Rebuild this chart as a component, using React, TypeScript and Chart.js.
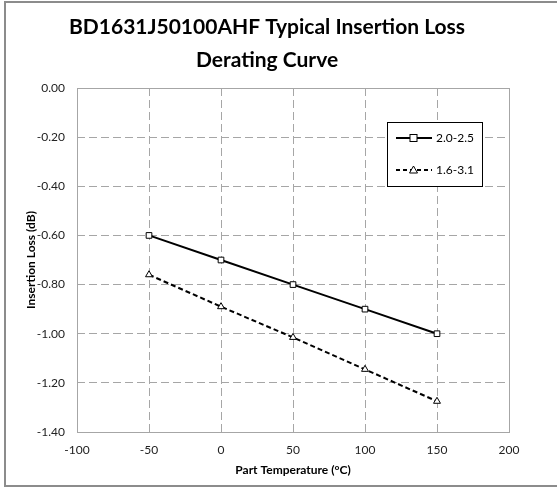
import React, { useEffect, useRef } from "react";
import { Chart, registerables } from "chart.js";

Chart.register(...registerables);

const titleLines = ["BD1631J50100AHF Typical Insertion Loss", "Derating Curve"];
const xAxisTitle = "Part Temperature (\u00B0C)";
const yAxisTitle = "Insertion Loss (dB)";
const temperatures = [-50, 0, 50, 100, 150];
const seriesA = "2.0-2.5";
const lossA = [-0.6, -0.7, -0.8, -0.9, -1.0];
const seriesB = "1.6-3.1";
const lossB = [-0.76, -0.89, -1.015, -1.145, -1.275];
const xMin = -100, xMax = 200, xStep = 50;
const yMin = -1.4, yMax = 0, yStep = 0.2;

const FONT = "Lato, 'Open Sans', sans-serif";

const overlayPlugin = {
  id: "overlay",
  beforeDraw(chart: any) {
    const ctx = chart.ctx;
    ctx.save();
    ctx.fillStyle = "#ffffff";
    ctx.fillRect(0, 0, chart.width, chart.height);
    ctx.fillStyle = "#000";
    ctx.font = `bold 21px ${FONT}`;
    ctx.textAlign = "center";
    ctx.textBaseline = "alphabetic";
    ctx.fillText(titleLines[0], 267, 34);
    ctx.fillText(titleLines[1], 267, 67);
    ctx.restore();
  },
  afterDatasetsDraw(chart: any) {
    const ctx = chart.ctx;
    const a = chart.chartArea;
    ctx.save();
    ctx.strokeStyle = "#a6a6a6";
    ctx.lineWidth = 1;
    ctx.strokeRect(Math.round(a.left) + 0.5, Math.round(a.top) + 0.5, Math.round(a.right - a.left), Math.round(a.bottom - a.top));
    // legend
    const lx = 387.5, ly = 122.5, lw = 95, lh = 64;
    ctx.fillStyle = "#fff";
    ctx.fillRect(lx, ly, lw, lh);
    ctx.strokeStyle = "#000";
    ctx.lineWidth = 1;
    ctx.strokeRect(lx, ly, lw, lh);
    const items = [
      { label: chart.data.datasets[0].label, y: 138, dash: [], style: "rect" },
      { label: chart.data.datasets[1].label, y: 170, dash: [4, 3], style: "triangle" },
    ];
    items.forEach((it) => {
      ctx.strokeStyle = "#000";
      ctx.lineWidth = 2;
      ctx.setLineDash(it.dash);
      ctx.beginPath();
      ctx.moveTo(396, it.y);
      ctx.lineTo(432, it.y);
      ctx.stroke();
      ctx.setLineDash([]);
      ctx.lineWidth = 1;
      ctx.fillStyle = "#fff";
      const cx = 413.5;
      if (it.style === "rect") {
        ctx.fillRect(cx - 3.5, it.y - 3.5, 7, 7);
        ctx.strokeRect(cx - 3.5, it.y - 3.5, 7, 7);
      } else {
        ctx.beginPath();
        ctx.moveTo(cx, it.y - 4);
        ctx.lineTo(cx + 4, it.y + 3);
        ctx.lineTo(cx - 4, it.y + 3);
        ctx.closePath();
        ctx.fill();
        ctx.stroke();
      }
      ctx.fillStyle = "#000";
      ctx.font = `12px ${FONT}`;
      ctx.textAlign = "left";
      ctx.textBaseline = "middle";
      ctx.fillText(it.label, 436, it.y);
    });
    ctx.restore();
  },
};

export default function App() {
  const ref = useRef<HTMLCanvasElement>(null);
  useEffect(() => {
    if (!ref.current) return;
    const chart = new Chart(ref.current, {
      type: "scatter",
      data: {
        datasets: [
          {
            label: seriesA,
            data: temperatures.map((t, i) => ({ x: t, y: lossA[i] })),
            showLine: true,
            borderColor: "#000",
            borderWidth: 2,
            pointStyle: "rect",
            pointRadius: 4,
            pointBorderWidth: 1,
            pointBackgroundColor: "#fff",
            pointBorderColor: "#000",
          },
          {
            label: seriesB,
            data: temperatures.map((t, i) => ({ x: t, y: lossB[i] })),
            showLine: true,
            borderColor: "#000",
            borderWidth: 2,
            borderDash: [5, 3],
            pointStyle: "triangle",
            pointRadius: 4,
            pointBorderWidth: 1,
            pointBackgroundColor: "#fff",
            pointBorderColor: "#000",
          },
        ],
      },
      options: {
        animation: false,
        responsive: false,
        maintainAspectRatio: false,
        layout: { padding: { left: 20, right: 48, top: 88, bottom: 10 } },
        plugins: {
          legend: { display: false },
          title: { display: false },
          tooltip: { enabled: false },
        },
        scales: {
          x: {
            type: "linear",
            min: xMin,
            max: xMax,
            ticks: { stepSize: xStep, color: "#222", font: { family: FONT, size: 12 }, padding: 11 },
            grid: {
              color: (c: any) => (c.tick && (c.tick.value === xMin || c.tick.value === xMax) ? "rgba(0,0,0,0)" : "#a6a6a6"),
              drawTicks: false,
            },
            border: { display: false, dash: [8, 4] },
            title: { display: true, text: xAxisTitle, color: "#000", font: { family: FONT, size: 12, weight: "bold" }, padding: { top: 6, bottom: 2 } },
            afterFit: (s: any) => { s.height = 47; },
          },
          y: {
            type: "linear",
            min: yMin,
            max: yMax,
            ticks: {
              stepSize: yStep,
              color: "#222",
              font: { family: FONT, size: 12 },
              padding: 12,
              callback: (v: any) => Number(v).toFixed(2),
            },
            grid: {
              color: (c: any) => (c.tick && (Math.abs(c.tick.value - yMin) < 1e-9 || Math.abs(c.tick.value - yMax) < 1e-9) ? "rgba(0,0,0,0)" : "#a6a6a6"),
              drawTicks: false,
            },
            border: { display: false, dash: [8, 4] },
            title: { display: true, text: yAxisTitle, color: "#000", font: { family: FONT, size: 12, weight: "bold" }, padding: { top: 4, bottom: 4 } },
            afterFit: (s: any) => { s.width = 57; },
          },
        },
      } as any,
      plugins: [overlayPlugin],
    });
    return () => chart.destroy();
  }, []);
  return (
    <div style={{ position: "absolute", left: 0, top: 0, width: 557, height: 489, overflow: "hidden", background: "#fff" }}>
      <canvas ref={ref} width={557} height={489} style={{ position: "absolute", left: 0, top: 0, width: 557, height: 489 }} />
      <div style={{ position: "absolute", left: 4, top: 1, width: 600, height: 482, border: "2px solid #8c8c8c", pointerEvents: "none" }} />
    </div>
  );
}
